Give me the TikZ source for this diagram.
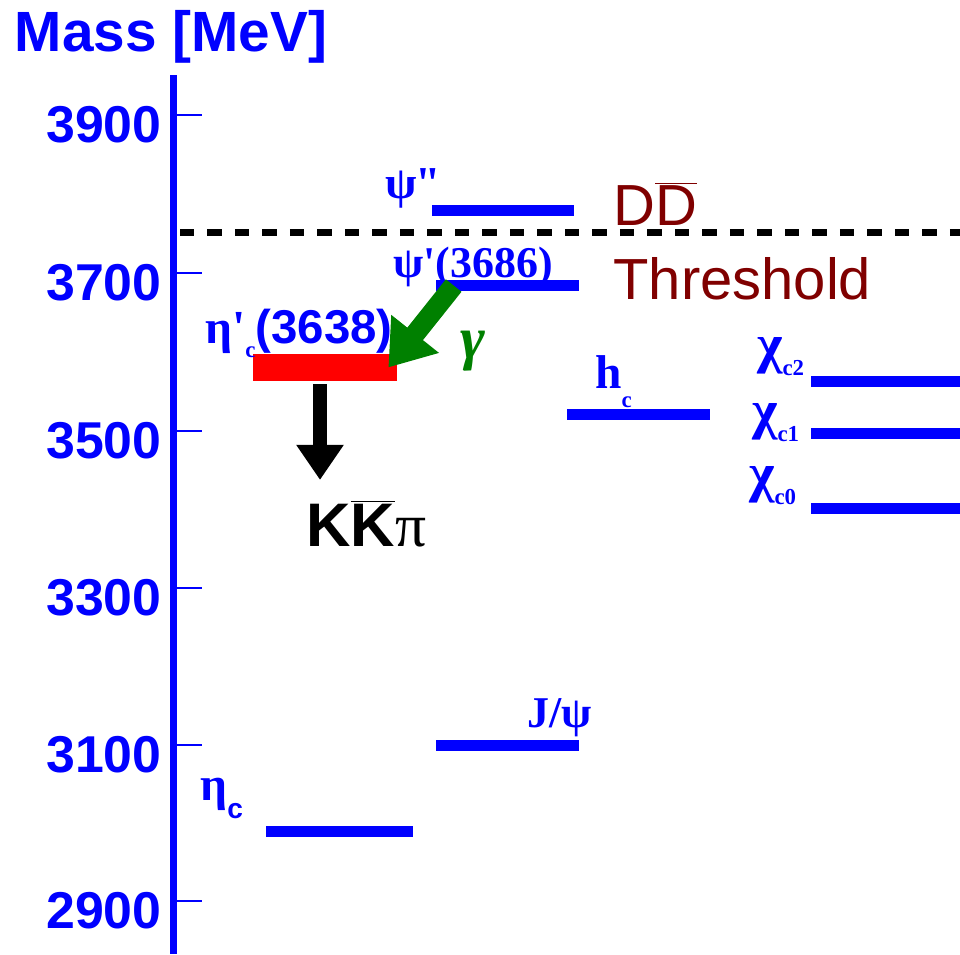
\documentclass[tikz,border=0pt]{standalone}
\usepackage{fontspec}
\setmainfont{Liberation Serif}
\setsansfont{Liberation Sans}
\usepackage{xcolor}
\usetikzlibrary{arrows.meta}
\definecolor{lvl}{HTML}{0000FF}
\definecolor{thrc}{HTML}{800000}
\definecolor{gam}{HTML}{008000}
\newcommand{\fs}[1]{\fontsize{#1}{#1}\selectfont}
\newcommand{\lsub}[3]{\raisebox{#1}{\fs{#2}#3}}

\begin{document}
\begin{tikzpicture}[x=0.02cm,y=-0.02cm,
  statebar/.style={fill=lvl,inner sep=0pt,minimum width=#1,minimum height=0.22cm},
  statebar/.default=2.86cm,
  lab/.style={text=lvl,inner sep=0pt},
  ticklab/.style={text=lvl,inner sep=0pt,anchor=east,font=\sffamily\bfseries\fs{29.5pt}},
  thr/.style={text=thrc,inner sep=0pt,anchor=west,font=\sffamily\fs{33pt}}]
\useasboundingbox (0,0) rectangle (960,954);

% mass axis
\draw[lvl,line width=0.14cm] (173.5,75) -- (173.5,954);
\node[lab,font=\sffamily\bfseries\fs{32.3pt}] (mass) at (171,37) {Mass [MeV]};
\foreach \m/\y in {3900/115,3700/273,3500/431,3300/588,3100/745,2900/901}{
  \draw[lvl,line width=0.04cm] (177,\y) -- (202,\y);
  \node[ticklab] (t\m) at (162,\y+10) {\m};
}

% open charm threshold
\draw[black,line width=0.14cm,dash pattern=on 0.29cm off 0.26cm] (180,232) -- (960,232);
\node[thr] (dd) at (613,203.5) {D$\overline{\mbox{D}}$};
\node[thr] (thrs) at (613,279) {Threshold};

% charmonium levels
\node[statebar=2.94cm] (etac) at (339.5,831.5) {};
\node[statebar] (jpsi) at (507.5,745.5) {};
\node[statebar] (hc) at (638.5,414) {};
\node[statebar=2.98cm] (chic0) at (885.5,508.5) {};
\node[statebar=2.98cm] (chic1) at (885.5,433.5) {};
\node[statebar=2.98cm] (chic2) at (885.5,381) {};
\node[statebar] (psip) at (507.5,285.5) {};
\node[statebar=2.84cm] (psipp) at (503,210.5) {};
\node[statebar=2.88cm,fill=red,minimum height=0.54cm] (etacp) at (325,367.5) {};

% level names
\node[lab,anchor=east,font=\bfseries\fs{26pt}] (l-psipp) at (441,188.5) {ψ\kern-1pt\textquotedbl};
\node[lab,anchor=west,font=\bfseries\fs{25pt}] (l-psip) at (393,266.5) {ψ\textquotesingle(3686)};
\node[lab,anchor=west,font=\bfseries\fs{27pt}] (l-etacp) at (205,333.5) {η\textquotesingle\lsub{-8pt}{13pt}{c}{\sffamily(3638)}};
\node[lab,anchor=west,font=\bfseries\fs{27pt}] (l-hc) at (595,381.5) {h\lsub{-11pt}{13pt}{c}};
\node[lab,anchor=west,font=\bfseries\fs{31pt}] (l-chic2) at (757,356.5) {χ\lsub{-7pt}{13pt}{c2}};
\node[lab,anchor=west,font=\bfseries\fs{31pt}] (l-chic1) at (752,422.5) {χ\lsub{-7pt}{13pt}{c1}};
\node[lab,anchor=west,font=\bfseries\fs{31pt}] (l-chic0) at (749,485.5) {χ\lsub{-7pt}{13pt}{c0}};
\node[lab,anchor=west,font=\bfseries\fs{25pt}] (l-jpsi) at (527,717.5) {J/ψ};
\node[lab,anchor=west,font=\bfseries\fs{27pt}] (l-etac) at (200,798.5) {η\lsub{-10pt}{16pt}{\sffamily c}};

% transitions
\node[inner sep=0pt,font=\fs{35pt}] (kkpi) at (366.5,523.5) {{\sffamily\bfseries K$\overline{\mbox{K}}$}π};
\node[inner sep=0pt,text=gam,font=\bfseries\itshape\fs{34pt}] (gamma) at (473,351) {γ};
\draw[gam,line width=0.4cm,-{Triangle[length=0.86cm,width=1.16cm]}] ([xshift=0.36cm]psip.west) -- ([xshift=-0.18cm]etacp.east);
\draw[black,line width=0.28cm,-{Triangle[length=0.7cm,width=0.9cm]}] ([xshift=-0.1cm,yshift=-0.06cm]etacp.south) -- ([xshift=-0.1cm,yshift=0.4cm]etacp.south |- kkpi.north);
\end{tikzpicture}
\end{document}
